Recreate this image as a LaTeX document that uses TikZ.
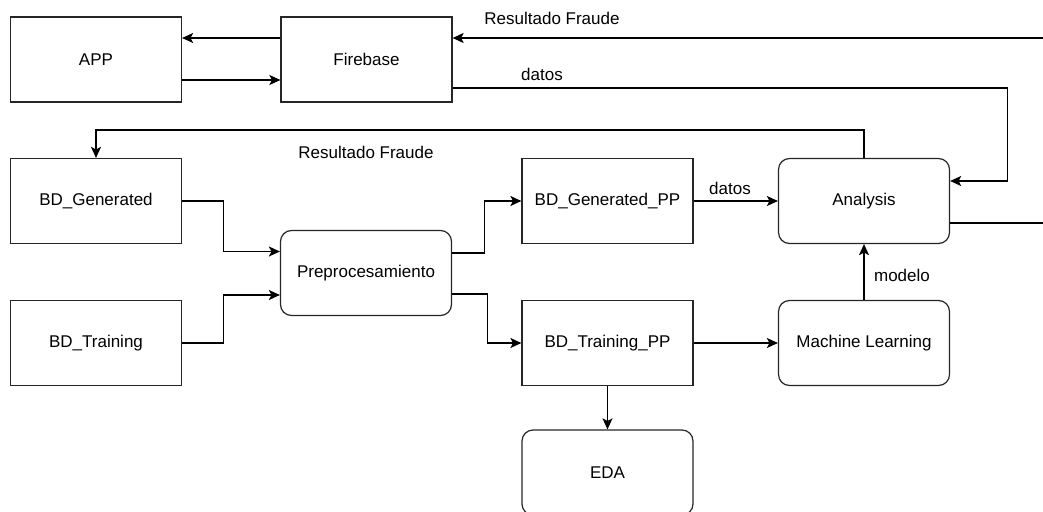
\documentclass[tikz,border=0pt]{standalone}
\usepackage{fontspec}
\setmainfont{Liberation Sans}
\usepackage{tikz}
\usetikzlibrary{arrows.meta}
\tikzset{block/.style={rectangle,draw=black!85,line width=1.2pt,minimum width=171pt,minimum height=85pt,inner sep=2pt,font=\fontsize{17}{20}\selectfont}}
\tikzset{rblock/.style={block,rounded corners=11pt}}
\tikzset{edge/.style={line width=1.2pt,-{Stealth[length=11pt,width=10pt,inset=2.5pt]}}}
\tikzset{link/.style={line width=1.2pt}}
\tikzset{lbl/.style={font=\fontsize{17}{20}\selectfont,inner sep=0pt}}

\begin{document}
\begin{tikzpicture}[x=1pt,y=-1pt]
    \useasboundingbox (0,0) rectangle (1043,511);
    \clip (0,0) rectangle (1043,511);
    \node[block] (app) at (96,59.5) {APP};
    \node[block] (fb) at (366.5,59.5) {Firebase};
    \node[block] (bdgen) at (96,201) {BD\_Generated};
    \node[block] (bdtrain) at (96,343) {BD\_Training};
    \node[rblock] (prep) at (366,273) {Preprocesamiento};
    \node[block] (genpp) at (607.5,201) {BD\_Generated\_PP};
    \node[block] (trainpp) at (607.5,343) {BD\_Training\_PP};
    \node[rblock] (eda) at (607.5,472.5) {EDA};
    \node[rblock] (ana) at (864,201) {Analysis};
    \node[rblock] (ml) at (864,343) {Machine Learning};
    \coordinate (rin) at (1043,38);
    \coordinate (rout) at (1043,223);
    % app <-> firebase
    \draw[edge] ([yshift=21.5pt]fb.west) -- ([yshift=21.5pt]app.east);
    \draw[edge] ([yshift=-20.5pt]app.east) -- ([yshift=-20.5pt]fb.west);
    \draw[edge] (rin) -- ([yshift=21.5pt]fb.east);
    \node[lbl] at (552,18) {Resultado Fraude};
    \draw[edge] ([yshift=-28.5pt]fb.east) -| ([xshift=57pt,yshift=20pt]ana.east) -- ([yshift=20pt]ana.east);
    \node[lbl] at (542,74) {datos};
    \draw[edge] (ana.north) -- ++(0,-28) -| (bdgen.north);
    \node[lbl] at (366,152) {Resultado Fraude};
    \draw[link] ([yshift=-22pt]ana.east) -- (rout);
    % preprocesamiento
    \draw[edge] (bdgen.east) -- ++(41,0) |- ([yshift=21.5pt]prep.west);
    \draw[edge] (bdtrain.east) -- ++(41,0) |- ([yshift=-22pt]prep.west);
    \draw[edge] ([yshift=20pt]prep.east) -- ++(32,0) |- (genpp.west);
    \draw[edge] ([yshift=-21pt]prep.east) -- ++(35,0) |- (trainpp.west);
    \draw[edge] (genpp) -- (ana);
    \node[lbl] at (730,188) {datos};
    \draw[edge] (trainpp) -- (ml);
    \draw[edge] (ml) -- (ana);
    \node[lbl] at (902,275) {modelo};
    \draw[edge] (trainpp) -- (eda);
\end{tikzpicture}
\end{document}
